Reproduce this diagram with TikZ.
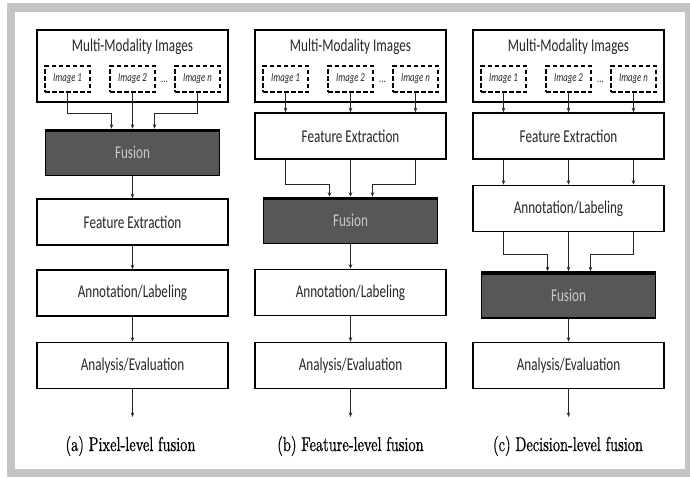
\documentclass[tikz,border=0pt]{standalone}
\usepackage{fontspec}
\newfontfamily\boxfont{Carlito}[FakeStretch=0.73]
\newfontfamily\capfont{lmroman10-regular.otf}[FakeStretch=0.72,FakeBold=0.6]
\usepackage{tikz}
\usetikzlibrary{arrows.meta}
\definecolor{framegray}{HTML}{C4C4C4}
\definecolor{fusefill}{HTML}{575757}
\definecolor{fusetext}{HTML}{C8C8C8}
\definecolor{inkgray}{HTML}{262626}
\tikzset{%
  stage/.style={draw=black,line width=1.5pt,fill=white,minimum width=191pt,minimum height=46pt,inner sep=0,text=inkgray,font=\boxfont\fontsize{18}{20}\selectfont},
  fuse/.style={stage,fill=fusefill,minimum width=174pt,text=fusetext,path picture={\draw[line width=5pt] (path picture bounding box.north west) -- (path picture bounding box.north east);}},
  src/.style={stage,minimum height=72pt},
  head/.style={inner sep=0,text=inkgray,font=\boxfont\fontsize{18}{20}\selectfont},
  img/.style={draw=black,line width=1.4pt,dash pattern=on 4.5pt off 2.5pt,minimum width=45pt,minimum height=26pt,inner sep=0,text=inkgray,font=\boxfont\itshape\fontsize{12}{14}\selectfont},
  dots/.style={inner sep=0,text=inkgray,font=\boxfont\fontsize{12}{14}\selectfont},
  subcap/.style={inner sep=0,font=\capfont\fontsize{20}{24}\selectfont},
  arr/.style={draw=inkgray,line width=0.9pt,-{Stealth[length=4.5pt,width=3.5pt]}}
}
\begin{document}
\begin{tikzpicture}[x=1pt,y=-1pt]
    \useasboundingbox (0,0) rectangle (690,477);
    \fill[framegray] (7,3) rectangle (690,477);
    \fill[white] (15,12) rectangle (685,469);
    % (a) pixel level
    \path
      (132.5,66) node[src] (ma) {} (132.5,47) node[head] (ta) {Multi-Modality Images}
      (67.5,79) node[img] (a1) {Image 1} (132.5,79) node[img] (a2) {Image 2} (197.5,79) node[img] (a3) {Image n}
      (164.5,82) node[dots] (ad) {...}
      (132.5,152.5) node[fuse] (fa) {Fusion}
      (132.5,222) node[stage] (ea) {Feature Extraction}
      (132.5,293) node[stage] (la) {Annotation/Labeling}
      (132.5,365.5) node[stage] (va) {Analysis/Evaluation}
      (132.5,417) coordinate (oa)
      (130.5,446) node[subcap] (ca) {(a) Pixel-level fusion};
    \draw[arr] (a1.south) -- ++(0,21) -| ([xshift=-21pt]fa.north);
    \draw[arr] (a2.south) -- (fa.north);
    \draw[arr] (a3.south) -- ++(0,21) -| ([xshift=22pt]fa.north);
    \draw[arr] (fa) -- (ea);
    \draw[arr] (ea) -- (la);
    \draw[arr] (la) -- (va);
    \draw[arr] (va) -- (oa);
    % (b) feature level
    \path
      (350.5,66) node[src] (mb) {} (350.5,47) node[head] (tb) {Multi-Modality Images}
      (285.5,79) node[img] (b1) {Image 1} (350.5,79) node[img] (b2) {Image 2} (415.5,79) node[img] (b3) {Image n}
      (382.5,82) node[dots] (bd) {...}
      (350.5,136) node[stage] (eb) {Feature Extraction}
      (350.5,220.5) node[fuse] (fb) {Fusion}
      (350.5,292.5) node[stage] (lb) {Annotation/Labeling}
      (350.5,365.5) node[stage] (vb) {Analysis/Evaluation}
      (350.5,417) coordinate (ob)
      (350.5,446) node[subcap] (cb) {(b) Feature-level fusion};
    \draw[arr] (b1.south) -- (b1.south |- eb.north);
    \draw[arr] (b2.south) -- (eb.north);
    \draw[arr] (b3.south) -- (b3.south |- eb.north);
    \draw[arr] ([xshift=-65pt]eb.south) -- ++(0,25) -| ([xshift=-21pt]fb.north);
    \draw[arr] (eb) -- (fb);
    \draw[arr] ([xshift=65pt]eb.south) -- ++(0,25) -| ([xshift=22pt]fb.north);
    \draw[arr] (fb) -- (lb);
    \draw[arr] (lb) -- (vb);
    \draw[arr] (vb) -- (ob);
    % (c) decision level
    \path
      (568.5,66) node[src] (mc) {} (568.5,47) node[head] (tc) {Multi-Modality Images}
      (503.5,79) node[img] (c1) {Image 1} (568.5,79) node[img] (c2) {Image 2} (633.5,79) node[img] (c3) {Image n}
      (600.5,82) node[dots] (cd) {...}
      (568.5,136) node[stage] (ec) {Feature Extraction}
      (568.5,208.5) node[stage] (lc) {Annotation/Labeling}
      (568.5,295) node[fuse] (fc) {Fusion}
      (568.5,365.5) node[stage] (vc) {Analysis/Evaluation}
      (568.5,417) coordinate (oc)
      (568,446) node[subcap] (cc) {(c) Decision-level fusion};
    \draw[arr] (c1.south) -- (c1.south |- ec.north);
    \draw[arr] (c2.south) -- (ec.north);
    \draw[arr] (c3.south) -- (c3.south |- ec.north);
    \draw[arr] ([xshift=-65pt]ec.south) -- ([xshift=-65pt]lc.north);
    \draw[arr] (ec) -- (lc);
    \draw[arr] ([xshift=65pt]ec.south) -- ([xshift=65pt]lc.north);
    \draw[arr] ([xshift=-65pt]lc.south) -- ++(0,22) -| ([xshift=-21pt]fc.north);
    \draw[arr] (lc) -- (fc);
    \draw[arr] ([xshift=65pt]lc.south) -- ++(0,22) -| ([xshift=22pt]fc.north);
    \draw[arr] (fc) -- (vc);
    \draw[arr] (vc) -- (oc);
  \end{tikzpicture}
\end{document}
